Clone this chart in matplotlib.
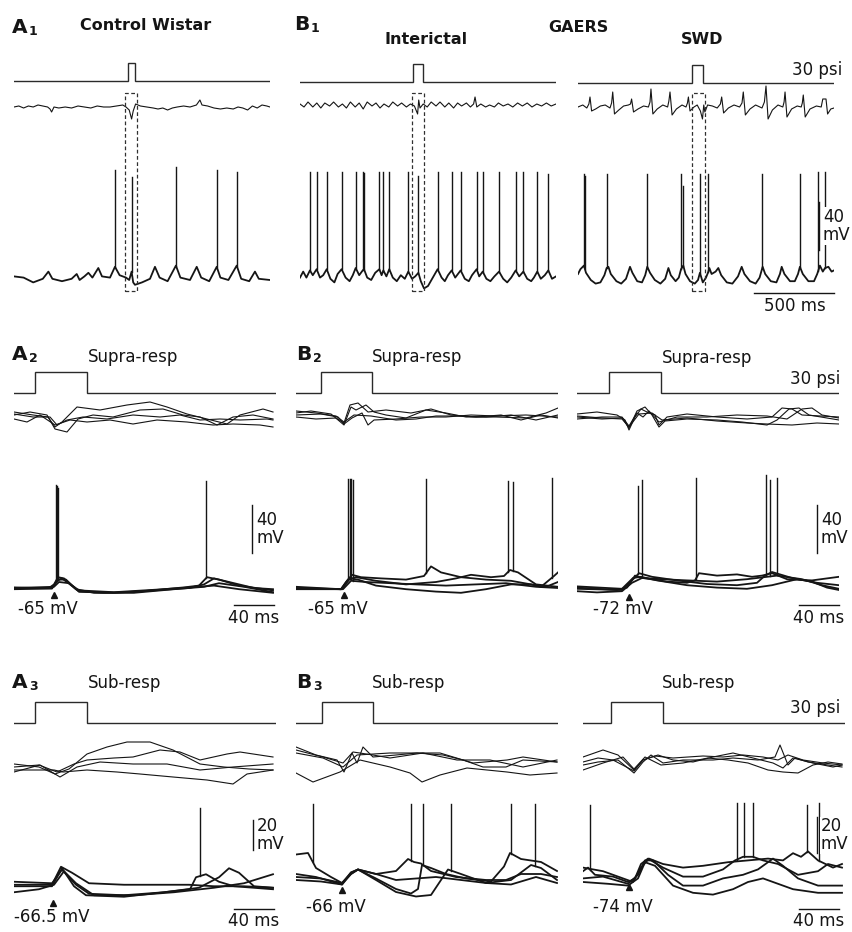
import numpy as np
import matplotlib.pyplot as plt
from matplotlib.patches import Rectangle
from matplotlib.transforms import blended_transform_factory

W, H = 852, 932
plt.rcParams['font.family'] = ['DejaVu Sans']
INK = '#151515'

# ---------------- data (time in ms, field in a.u., Vm in mV) ----------------
# row 1 : long sweeps, puff = (on, off) in ms
a1_puff = (710, 755)
b1_puff = (708, 770)
c1_puff = (715, 780)

a1_field = [(0,0),(30,1),(60,-1),(90,1),(120,0),(150,2),(180,1),(210,0),(225,-2),(235,-5),(250,0),
            (280,-1),(320,0),(360,-1),(400,1),(440,0),(480,-1),(520,1),(560,0),(600,0),(640,1),(680,2),
            (700,0),(720,-3),(735,-12),(745,-4),(760,3),(790,1),(830,0),(870,-1),(900,-2),(930,-1),
            (960,-3),(990,-1),(1020,0),(1060,1),(1100,0),(1140,2),(1162,7),(1175,2),(1210,1),(1250,-1),
            (1290,-2),(1330,-1),(1370,-2),(1400,0),(1430,-1),(1460,-3),(1490,1),(1520,-1),(1550,2),
            (1580,1),(1600,0)]
b1_field = [(0,1),(25,-2),(50,3),(80,-2),(105,2),(130,-3),(155,2),(185,-1),(210,3),(240,-2),(265,1),
            (290,-3),(315,3),(345,-2),(370,2),(395,-4),(420,3),(450,-1),(475,2),(500,-3),(525,1),
            (555,-2),(580,3),(610,-1),(635,2),(665,-2),(690,1),(715,-1),(735,-9),(742,5),(750,-3),
            (770,1),(795,-2),(820,3),(850,-1),(875,3),(905,-2),(930,2),(960,-3),(985,2),(1010,-1),
            (1040,2),(1065,-2),(1085,1),(1094,8),(1105,-2),(1130,1),(1160,-2),(1185,0),(1215,-2),
            (1240,2),(1270,-1),(1300,1),(1330,-2),(1360,2),(1390,-1),(1420,2),(1450,-2),(1480,1),
            (1510,-1),(1540,2),(1570,-1),(1600,1)]
c1_field = [(0,0),(30,2),(55,-1),(68,3),(75,10),(85,-4),(110,-2),(140,1),(170,2),(200,-1),(210,4),
            (217,15),(228,-7),(255,-3),(285,1),(315,2),(328,3),(335,8),(347,-5),(375,-2),(410,1),
            (440,0),(450,5),(456,18),(468,-7),(495,-2),(530,2),(560,0),(568,6),(575,15),(588,-8),
            (615,-2),(650,2),(675,0),(684,4),(690,10),(700,-4),(725,0),(745,2),(765,-4),(778,-12),
            (786,2),(793,-5),(810,2),(840,1),(870,-1),(890,3),(898,10),(910,-6),(940,-1),(975,2),
            (1010,0),(1025,4),(1033,15),(1046,-8),(1075,-2),(1110,2),(1150,-1),(1165,5),(1175,21),
            (1188,-12),(1215,-3),(1250,2),(1280,0),(1288,5),(1294,15),(1306,-10),(1335,-2),(1370,1),
            (1395,0),(1402,4),(1408,12),(1420,-10),(1450,-2),(1490,1),(1520,0),(1530,8),(1550,8),
            (1560,-7),(1580,-2),(1600,-1)]

a1_vm = [(0,-59),(60,-60),(120,-64),(180,-61),(215,-55),(240,-61),(300,-63),(360,-61),(392,-57),
         (410,-62),(440,-59),(465,-56),(490,-60),(527,-52),(550,-59),(600,-60),(631,-51),(660,-58),
         (700,-60),(720,-62),(735,-55),(745,-64),(756,-66),(800,-64),(850,-61),(881,-51),(910,-60),
         (960,-63),(1012,-50),(1040,-60),(1100,-62),(1142,-51),(1170,-60),(1220,-63),(1267,-51),
         (1290,-60),(1340,-62),(1392,-50),(1420,-61),(1470,-63),(1506,-55),(1530,-61),(1600,-62)]
a1_spikes = [(631,30),(735,24),(1012,32),(1267,30),(1392,28)]

b1_vm = [(0,-60),(20,-55),(40,-60),(62,-54),(80,-58),(104,-53),(125,-60),(145,-58),(167,-53),
         (190,-61),(215,-64),(235,-57),(260,-53),(285,-60),(310,-63),(330,-58),(348,-52),(370,-58),
         (392,-54),(400,-53),(420,-60),(445,-62),(470,-56),(496,-53),(510,-58),(521,-54),(540,-59),
         (558,-53),(580,-60),(605,-63),(630,-58),(655,-61),(677,-55),(700,-61),(720,-59),(740,-56),
         (755,-63),(775,-69),(800,-67),(830,-60),(860,-53),(885,-60),(905,-63),(925,-58),(948,-54),
         (970,-60),(1004,-54),(1030,-61),(1055,-63),(1075,-58),(1104,-53),(1120,-59),(1142,-55),
         (1165,-61),(1190,-63),(1215,-59),(1244,-55),(1270,-61),(1295,-64),(1320,-60),(1348,-54),
         (1370,-59),(1396,-55),(1420,-61),(1445,-63),(1462,-60),(1483,-55),(1505,-61),(1530,-58),
         (1552,-54),(1575,-61),(1600,-59)]
b1_spikes = [(62,28),(104,28),(167,28),(260,28),(348,28),(392,28),(400,27),(496,28),(521,28),
             (558,28),(677,28),(740,25),(860,28),(948,28),(1004,28),(1104,28),(1142,28),(1244,28),
             (1348,28),(1396,28),(1483,28),(1552,26)]

c1_vm = [(0,-57),(15,-53),(37,-50),(50,-56),(80,-62),(110,-65),(140,-64),(165,-58),(179,-52),
         (190,-51),(205,-57),(240,-63),(270,-65),(300,-61),(325,-51),(340,-56),(370,-63),(400,-64),
         (420,-58),(433,-51),(450,-56),(480,-62),(515,-65),(545,-61),(565,-52),(580,-58),(610,-63),
         (630,-60),(644,-53),(658,-50),(672,-57),(700,-63),(730,-65),(750,-62),(762,-56),(780,-64),
         (800,-60),(815,-55),(821,-52),(835,-57),(860,-55),(877,-52),(895,-58),(930,-64),(965,-65),
         (1000,-59),(1023,-51),(1040,-57),(1075,-63),(1110,-65),(1135,-60),(1154,-51),(1170,-57),
         (1205,-63),(1240,-64),(1262,-57),(1273,-51),(1290,-57),(1325,-63),(1355,-63),(1375,-57),
         (1387,-51),(1405,-57),(1440,-63),(1475,-63),(1495,-57),(1512,-50),(1530,-55),(1544,-52),
         (1565,-51),(1585,-55),(1600,-54)]
c1_spikes = [(37,26),(44,25),(179,26),(433,26),(644,26),(658,16),(762,26),(815,26),(1152,26),
             (1387,26),(1502,28),(1544,28)]

# row 2 : supra-threshold responses (4 sweeps each)
a2_puff = (21, 73)
a2_field = [
    [(0,5),(19,2),(34,0),(41,-10),(48,-5),(63,10),(86,7),(113,12),(136,15),(153,10),(173,3),(193,-2),(213,-7),(226,2),(249,8),(259,5)],
    [(0,2),(16,5),(33,2),(41,-12),(53,-15),(64,-2),(79,2),(99,0),(126,7),(149,8),(169,2),(186,0),(203,-8),(219,0),(239,2),(259,-2)],
    [(0,-2),(13,-5),(26,2),(41,-8),(56,-3),(73,-5),(96,-3),(119,-7),(143,-3),(173,-5),(199,-8),(219,-7),(246,-8),(259,-10)],
    [(0,3),(19,0),(36,0),(43,-8),(53,-3),(69,0),(93,-2),(119,2),(146,0),(166,2),(186,-3),(206,-2),(226,-3),(253,-2),(259,-3)]]
a2_vm = [
    [(0,-64.5),(20,-65),(35,-65),(40,-62),(44,-56),(50,-57),(58,-63),(65,-68),(90,-69),(120,-68.5),(150,-66),(170,-64.5),(185,-63),(193,-56),(205,-58),(225,-63),(259,-67)],
    [(0,-65),(38,-65),(43,-59),(48,-57),(56,-62),(65,-68),(100,-69),(140,-67),(175,-65),(190,-62),(200,-57),(215,-60),(240,-65),(259,-66)],
    [(0,-66),(38,-65.5),(44,-58),(52,-58),(62,-66),(80,-69),(120,-69),(160,-66),(190,-64),(205,-61),(230,-64),(259,-68.5)],
    [(0,-65),(40,-64),(45,-60),(55,-61),(65,-67),(100,-68.5),(150,-66),(185,-64),(200,-63),(225,-66),(259,-69)]]
a2_spikes = [[(42,21),(192,24)], [(43,20)], [(44,18)], []]

b2_puff = (25, 76)
b2_field = [
    [(0,2),(15,4),(35,1),(48,-10),(55,8),(60,5),(70,10),(78,3),(90,0),(110,-3),(130,5),(150,2),(170,-2),(200,-2),(230,-3),(250,2),(262,7)],
    [(0,-2),(20,-4),(40,-3),(48,-8),(54,10),(62,12),(72,3),(90,5),(115,2),(135,6),(155,0),(180,-2),(205,0),(225,-5),(245,0),(262,-3)],
    [(0,0),(25,1),(42,-2),(48,-9),(56,-3),(66,2),(72,-10),(78,-5),(100,-4),(125,-2),(150,-2),(175,0),(200,-1),(230,0),(262,-2)],
    [(0,4),(20,2),(40,-1),(48,-7),(58,0),(75,-1),(100,-5),(120,-4),(140,-1),(160,-1),(190,-2),(215,0),(240,-5),(262,0)]]
b2_vm = [
    [(0,-65),(45,-66),(50,-60),(56,-54),(65,-56),(85,-57),(110,-58),(128,-55),(135,-47),(145,-52),(165,-56),(190,-58),(215,-59),(235,-62),(250,-64),(262,-60)],
    [(0,-64),(45,-66),(52,-58),(60,-56),(80,-59),(110,-62),(140,-60),(160,-57),(175,-54),(195,-56),(208,-55),(214,-50),(222,-52),(240,-62),(262,-64)],
    [(0,-66),(46,-66),(54,-57),(62,-58),(80,-63),(110,-66),(140,-68),(165,-69),(190,-66),(215,-62),(235,-62),(245,-64),(258,-55),(262,-52)],
    [(0,-65.5),(47,-66),(55,-59),(70,-60),(95,-61),(120,-62),(150,-63),(180,-62),(210,-61),(240,-64),(262,-65)]]
b2_spikes = [[(52,26),(130,26)], [(54,26),(212,24),(217,23)], [(55,26),(256,27)], [(57,25)]]

c2_puff = (32, 84)
c2_field = [
    [(0,3),(20,5),(40,2),(48,-3),(52,-13),(58,0),(64,8),(70,5),(78,2),(82,-8),(90,0),(110,3),(140,0),(170,-2),(195,0),(205,9),(215,8),(225,2),(262,0)],
    [(0,0),(25,-2),(45,-1),(52,-11),(60,6),(68,10),(75,2),(82,-10),(88,-4),(110,-2),(140,-3),(165,-5),(190,-8),(200,-3),(212,8),(222,9),(232,2),(262,-3)],
    [(0,-2),(25,0),(45,0),(52,-9),(60,4),(66,0),(72,6),(82,-5),(100,0),(130,0),(160,2),(190,1),(210,-2),(225,8),(235,9),(245,2),(262,-1)],
    [(0,1),(25,-1),(45,-2),(52,-10),(62,3),(75,4),(85,-3),(110,-1),(140,-4),(170,-6),(190,-7),(215,-8),(240,-6),(262,-7)]]
c2_vm = [
    [(0,-70),(40,-72),(50,-70),(58,-60),(66,-62),(90,-65),(110,-66),(118,-64),(122,-58),(140,-60),(160,-59),(175,-61),(185,-60),(195,-58),(210,-63),(235,-64),(262,-61)],
    [(0,-71),(45,-72),(55,-64),(62,-58),(75,-61),(100,-64),(130,-67),(160,-68),(180,-66),(188,-60),(195,-57),(215,-62),(240,-66),(262,-68)],
    [(0,-69),(45,-71),(56,-62),(64,-61),(80,-64),(110,-68),(140,-70),(170,-71),(195,-68),(220,-63),(235,-65),(250,-70),(262,-72)],
    [(0,-73),(20,-74),(45,-73),(55,-66),(65,-62),(85,-63),(110,-64),(140,-65),(170,-63),(200,-60),(225,-63),(245,-68),(262,-71)]]
c2_spikes = [[(119,21),(200,21)], [(61,15),(189,24)], [(65,20)], [(193,20)]]

# row 3 : sub-threshold responses
a3_puff = (21, 73)
a3_field = [
    [(0,3),(25,0),(41,-7),(55,-2),(73,13),(93,20),(113,25),(136,25),(159,17),(186,3),(210,0),(235,-2),(259,-3)],
    [(0,0),(25,2),(43,-5),(60,3),(73,7),(100,9),(119,10),(146,17),(166,15),(186,7),(213,13),(226,15),(259,10)],
    [(0,-5),(26,2),(46,-10),(63,0),(86,5),(119,3),(153,3),(186,-3),(219,0),(259,3)],
    [(0,-3),(40,-3),(49,-5),(73,-3),(103,-5),(126,-7),(159,-10),(193,-13),(219,-17),(233,-7),(259,-3)]]
a3_vm = [
    [(0,-65),(38,-65),(47,-53),(58,-57),(75,-64),(110,-65),(150,-65),(175,-65),(200,-66),(230,-66),(259,-67)],
    [(0,-63),(38,-64),(48,-55),(62,-65),(75,-71),(110,-72),(150,-70),(176,-68),(182,-60),(192,-58),(205,-63),(220,-66),(259,-68)],
    [(0,-66),(38,-66),(48,-54),(60,-66),(72,-72),(110,-73),(150,-70),(185,-67),(205,-60),(215,-54),(225,-57),(240,-66),(259,-67)],
    [(0,-70),(25,-68),(40,-65),(50,-56),(62,-64),(80,-72),(120,-72),(160,-70),(200,-67),(230,-64),(259,-58)]]
a3_spikes = [[], [(186,-14)], [], []]

b3_puff = (26, 77)
b3_field = [
    [(0,13),(20,5),(41,0),(48,-12),(56,7),(61,-3),(67,13),(77,3),(100,5),(121,7),(147,5),(167,0),(187,-7),(210,-7),(227,0),(261,-2)],
    [(0,10),(27,3),(47,-3),(57,8),(77,5),(94,2),(127,7),(161,0),(194,0),(227,-7),(261,0)],
    [(0,7),(27,2),(47,-7),(61,5),(94,7),(144,7),(177,-3),(211,0),(227,3),(261,-2)],
    [(0,-13),(17,-22),(44,-12),(64,0),(94,-7),(114,-13),(126,-22),(144,-15),(171,-8),(211,-12),(234,-15),(261,-13)]]
b3_vm = [
    [(0,-47),(12,-46),(20,-56),(35,-62),(46,-66),(55,-60),(62,-57),(80,-60),(100,-58),(112,-50),(118,-52),(125,-53),(135,-58),(160,-62),(190,-64),(210,-64),(225,-60),(245,-60),(261,-62)],
    [(0,-60),(20,-62),(46,-67),(55,-59),(62,-57),(80,-63),(100,-70),(115,-73),(122,-70),(126,-54),(135,-56),(150,-60),(170,-63),(195,-65),(208,-55),(214,-46),(225,-50),(245,-52),(261,-58)],
    [(0,-62),(25,-63),(46,-66),(55,-59),(62,-57),(80,-64),(100,-72),(120,-75),(135,-74),(145,-64),(152,-57),(165,-60),(190,-66),(215,-64),(235,-54),(245,-56),(261,-64)],
    [(0,-64),(25,-65),(46,-67),(55,-60),(62,-57),(80,-60),(100,-64),(120,-63),(140,-62),(165,-64),(190,-66),(215,-67),(240,-62),(261,-66)]]
b3_spikes = [[(17,-13),(115,-13)], [(127,-13),(215,-13)], [(155,-13),(239,-13)], []]

c3_puff = (28, 80)
c3_field = [
    [(0,3),(20,10),(35,5),(51,-10),(60,0),(75,5),(90,0),(110,-2),(130,3),(150,7),(170,2),(190,-3),(200,-8),(210,2),(230,-3),(250,-7),(259,-5)],
    [(0,-5),(15,-2),(35,0),(51,-13),(60,-2),(68,5),(80,-3),(100,0),(130,0),(150,2),(175,0),(192,3),(197,15),(205,-5),(212,2),(225,-2),(245,-5),(259,-7)],
    [(0,-10),(20,-3),(40,3),(51,-9),(62,3),(78,-5),(100,-3),(125,2),(145,0),(165,-3),(185,-10),(200,-12),(215,-13),(230,-5),(245,-2),(259,-4)],
    [(0,-2),(15,2),(30,0),(51,-11),(60,0),(72,4),(90,2),(120,4),(140,3),(160,5),(180,3),(195,0),(205,5),(220,0),(240,-3),(259,-5)]]
c3_vm = [
    [(0,-68),(5,-66),(12,-70),(30,-71),(45,-74),(52,-72),(58,-64),(65,-61),(80,-66),(100,-71),(120,-71),(140,-67),(152,-62),(160,-60),(170,-60),(180,-62),(195,-64),(215,-70),(235,-68),(245,-64),(259,-66)],
    [(0,-66),(20,-68),(40,-72),(50,-74),(58,-66),(66,-61),(80,-64),(100,-66),(120,-65),(145,-63),(165,-62),(185,-61),(200,-62),(210,-58),(218,-60),(225,-57),(235,-62),(250,-66),(259,-64)],
    [(0,-72),(20,-71),(45,-75),(55,-70),(62,-62),(70,-62),(85,-70),(100,-76),(120,-76),(140,-72),(160,-70),(175,-67),(190,-61),(200,-65),(215,-72),(235,-76),(259,-76)],
    [(0,-74),(25,-75),(45,-76),(55,-72),(62,-63),(72,-65),(90,-76),(110,-80),(130,-81),(150,-78),(165,-74),(180,-72),(190,-74),(210,-78),(235,-80),(259,-80)]]
c3_spikes = [[(7,-31),(154,-30),(161,-30),(170,-30)], [(224,-31),(236,-30)], [], []]

# resting potential markers (time, level) and labels
rest_marks = {'A2': (40, -71, '-65 mV'), 'B2': (48, -71, '-65 mV'), 'C2': (52, -78, '-72 mV'),
              'A3': (39, -77, '-66.5 mV'), 'B3': (46, -70.7, '-66 mV'), 'C3': (46, -76.8, '-74 mV')}

# ---------------- layout (pixels) ----------------
# x0, span (ms), ms per px, puff baseline y, px per psi, field y0, Vm ref y, Vm ref value, px per mV
layout = {
    'A1': (14, 1600, 6.25, 81, 0.6, 107, 280, -62, 1.2),
    'B1': (300, 1600, 6.25, 82, 0.6, 105, 280, -62, 1.2),
    'C1': (578, 1600, 6.25, 83, 0.6, 107, 280, -62, 1.2),
    'A2': (14, 262, 1.0, 393, 0.7, 417, 588, -65, 1.2),
    'B2': (296, 262, 1.0, 393, 0.7, 415, 588, -65, 1.2),
    'C2': (577, 262, 1.0, 393, 0.7, 417, 590, -72, 1.2),
    'A3': (14, 262, 1.0, 723, 0.7, 767, 887, -66.5, 1.5),
    'B3': (296, 262, 1.0, 723, 0.7, 760, 883, -66, 1.5),
    'C3': (583, 262, 1.0, 723, 0.7, 760, 882, -74, 1.8),
}

fig = plt.figure(figsize=(W / 100, H / 100), dpi=100)


def px_axes(x0, span, mspp, y_ref, v_ref, ppu, above, below):
    ax = fig.add_axes([x0 / W, 1 - (y_ref + below) / H, span / mspp / W, (above + below) / H])
    ax.set_xlim(0, span)
    ax.set_ylim(v_ref - below / ppu, v_ref + above / ppu)
    ax.axis('off')
    return ax


def ftext(x, y, s, **kw):
    kw.setdefault('fontsize', 12)
    kw.setdefault('color', INK)
    return fig.text(x / W, 1 - y / H, s, **kw)


def draw_panel(key, puff, fields, vms, spikes, field_lw=0.8, vm_lw=1.1):
    x0, span, mspp, sy, sppu, fy, vy, vref, vppu = layout[key]
    ax_s = px_axes(x0, span, mspp, sy, 0, sppu, 30, 6)
    ax_s.plot([0, puff[0], puff[0], puff[1], puff[1], span], [0, 0, 30, 30, 0, 0],
              color='#2a2a2a', lw=1.0, solid_joinstyle='miter')
    ax_f = px_axes(x0, span, mspp, fy, 0, 1.0, 30, 30)
    for tr in fields:
        t, v = np.array(tr).T
        ax_f.plot(t, v, color=INK, lw=field_lw)
    ax_v = px_axes(x0, span, mspp, vy, vref, vppu, 135, 40)
    for tr, sp in zip(vms, spikes):
        t, v = np.array(tr).T
        ax_v.plot(t, v, color=INK, lw=vm_lw, solid_joinstyle='round')
        for ts, pk in sp:
            ax_v.plot([ts, ts], [np.interp(ts, t, v), pk], color=INK, lw=1.0, clip_on=False)
    return ax_s, ax_f, ax_v


def letter(x, y, L, sub):
    ftext(x, y, L, fontsize=14.5, fontweight='bold', va='baseline')
    ftext(x + 17, y + 2, sub, fontsize=9, fontweight='bold', va='baseline')


def bar_label(ax, t, v, s):
    ax.text(t, v, s, transform=ax.transData, fontsize=12, color=INK, ha='left', va='center',
            linespacing=1.0, bbox=dict(facecolor='white', edgecolor='none', pad=0.5), zorder=5)


# ---------------- row 1 ----------------
_, _, ax = draw_panel('A1', a1_puff, [a1_field], [a1_vm], [a1_spikes], vm_lw=1.3)
panels_r1 = {'A1': ax}
_, _, ax = draw_panel('B1', b1_puff, [b1_field], [b1_vm], [b1_spikes], vm_lw=1.3)
panels_r1['B1'] = ax
_, _, ax = draw_panel('C1', c1_puff, [c1_field], [c1_vm], [c1_spikes], vm_lw=1.3)
panels_r1['C1'] = ax

# dashed windows around the puff
box_win = {'A1': (694, 769), 'B1': (700, 775), 'C1': (712, 794)}
for key, (t0, t1) in box_win.items():
    tr = blended_transform_factory(panels_r1[key].transData, fig.transFigure)
    fig.add_artist(Rectangle((t0, 1 - 291 / H), t1 - t0, 198 / H, transform=tr, fill=False,
                             edgecolor='#303030', lw=0.9, ls=(0, (3, 2))))

ax = panels_r1['C1']
ax.plot([1506, 1506], [-37, 3], color=INK, lw=1.0, clip_on=False)
bar_label(ax, 1530, -17, '40\nmV')
ax.plot([1100, 1600], [-73, -73], color=INK, lw=1.0, clip_on=False)
ftext(795, 306, '500 ms', ha='center', va='center')

letter(12, 33, 'A', '1')
ftext(80, 25, 'Control Wistar', fontsize=11.5, fontweight='bold', va='center')
letter(294, 30, 'B', '1')
ftext(426, 40, 'Interictal', fontsize=11.5, fontweight='bold', ha='center', va='center')
ftext(578, 28, 'GAERS', fontsize=11.5, fontweight='bold', ha='center', va='center')
ftext(702, 40, 'SWD', fontsize=11.5, fontweight='bold', ha='center', va='center')
ftext(842, 70, '30 psi', ha='right', va='center')

# ---------------- rows 2 and 3 ----------------
rows = [('A2', a2_puff, a2_field, a2_vm, a2_spikes), ('B2', b2_puff, b2_field, b2_vm, b2_spikes),
        ('C2', c2_puff, c2_field, c2_vm, c2_spikes), ('A3', a3_puff, a3_field, a3_vm, a3_spikes),
        ('B3', b3_puff, b3_field, b3_vm, b3_spikes), ('C3', c3_puff, c3_field, c3_vm, c3_spikes)]
vm_axes = {}
for key, puff, fl, vm, sp in rows:
    _, _, ax = draw_panel(key, puff, fl, vm, sp, field_lw=0.8, vm_lw=1.3)
    vm_axes[key] = ax
    t, v, lab = rest_marks[key]
    ax.plot(t, v, marker='^', ms=5, color=INK, clip_on=False)
    x0 = layout[key][0]
    y_lab = 609 if key.endswith('2') else (917 if key == 'A3' else 907)
    dx = -1 if key == 'A3' else -6
    ftext(x0 + t + dx, y_lab, lab, ha='center', va='center')

# scale bars (mV vertical, ms horizontal)
for key, tv, v0, v1, th0, th1, vh, lab in [('A2', 238, -36, 4, 220, 260, -79, '40\nmV'),
                                          ('C2', 240, -41, -1, 222, 262, -84.5, '40\nmV'),
                                          ('A3', 239, -42, -22, 220, 260, -81, '20\nmV'),
                                          ('C3', 234, -58, -38, 216, 256, -89, '20\nmV')]:
    ax = vm_axes[key]
    ax.plot([tv, tv], [v0, v1], color=INK, lw=1.0, clip_on=False)
    bar_label(ax, tv + 4, (v0 + v1) / 2, lab)
    ax.plot([th0, th1], [vh, vh], color=INK, lw=1.0, clip_on=False)
    x0 = layout[key][0]
    ftext(x0 + (th0 + th1) / 2, 618 if key.endswith('2') else 921, '40 ms', ha='center', va='center')

letter(12, 360, 'A', '2')
ftext(88, 357, 'Supra-resp', va='center')
letter(296, 360, 'B', '2')
ftext(372, 357, 'Supra-resp', va='center')
ftext(662, 358, 'Supra-resp', va='center')
ftext(840, 379, '30 psi', ha='right', va='center')

letter(12, 688, 'A', '3')
ftext(88, 683, 'Sub-resp', va='center')
letter(296, 688, 'B', '3')
ftext(372, 683, 'Sub-resp', va='center')
ftext(662, 683, 'Sub-resp', va='center')
ftext(840, 708, '30 psi', ha='right', va='center')

fig.savefig('out.png', dpi=100, facecolor='white')
